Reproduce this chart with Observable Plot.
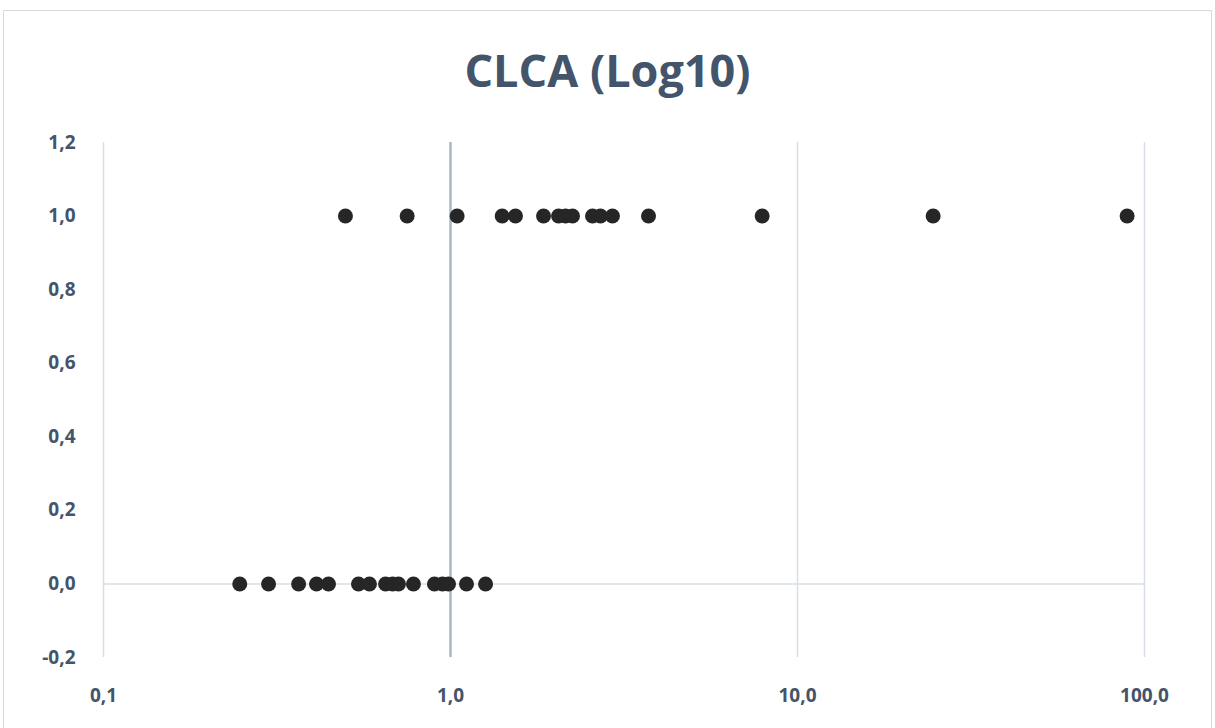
<!DOCTYPE html>
<html>
<head>
<meta charset="utf-8">
<script src="https://cdn.jsdelivr.net/npm/d3@7"></script>
<script src="https://cdn.jsdelivr.net/npm/@observablehq/plot@0.6"></script>
<style>
  html, body { margin: 0; padding: 0; background: #ffffff; width: 1215px; height: 728px; overflow: hidden; }
  #frame { position: absolute; left: 3px; top: 10px; width: 1207px; height: 740px; border: 1.5px solid #d9d9d9; pointer-events: none; }
  #title { position: absolute; left: 0; top: 0; width: 1215px; height: 121px; text-align: center;
           font-family: "Open Sans", sans-serif; font-weight: 700; font-size: 45px; color: #44546a;
           line-height: 1; box-sizing: border-box; padding-top: 47px; }
  #chart { position: absolute; left: 0; top: 121px; }
  #chart svg text { font-size: 19px !important; font-weight: 700 !important; font-family: "Open Sans", sans-serif !important; }
</style>
</head>
<body>
<div id="title">CLCA (Log10)</div>
<div id="chart"></div>
<div id="frame"></div>
<script>
// Values (x on a log10 scale)
const outcomeOneX = [0.498, 0.750, 1.045, 1.409, 1.539, 1.854, 2.048, 2.145, 2.247, 2.566, 2.705, 2.929, 3.721, 7.91, 24.6, 89.1];
const outcomeZeroX = [0.247, 0.299, 0.365, 0.411, 0.445, 0.543, 0.584, 0.650, 0.681, 0.708, 0.782, 0.899, 0.948, 0.987, 1.112, 1.262];
const xTickValues = [0.1, 1, 10, 100];
const yTickValues = [-0.2, 0, 0.2, 0.4, 0.6, 0.8, 1.0, 1.2];
const xGridValues = [0.1, 10, 100];
const xAxisCross = [1];
const yAxisCross = [0];

const points = [
  ...outcomeOneX.map(v => ({x: v, y: 1})),
  ...outcomeZeroX.map(v => ({x: v, y: 0}))
];

const fmt = d => d.toFixed(1).replace(".", ",");

const chart = Plot.plot({
  width: 1215,
  height: 607,
  marginLeft: 103,
  marginRight: 71,
  marginTop: 21,
  marginBottom: 71,
  style: { fontFamily: "'Open Sans', sans-serif", fontWeight: 700, color: "#44546a", background: "transparent" },
  x: { type: "log", domain: [0.1, 100], ticks: xTickValues, tickFormat: fmt },
  y: { domain: [-0.2, 1.2], ticks: yTickValues, tickFormat: fmt },
  marks: [
    Plot.ruleX(xGridValues, { stroke: "#d9dfe8", strokeWidth: 1.5 }),
    Plot.ruleY(yAxisCross, { stroke: "#d9dfe8", strokeWidth: 1.5 }),
    Plot.ruleX(xAxisCross, { stroke: "#a8b6c8", strokeWidth: 2.5 }),
    Plot.dot(points, { x: "x", y: "y", r: 7.5, fill: "#262626", stroke: "none" }),
    Plot.axisX({ ticks: xTickValues, tickFormat: fmt, tickSize: 0, tickPadding: 31, fill: "#44546a", label: null }),
    Plot.axisY({ ticks: yTickValues, tickFormat: fmt, tickSize: 0, tickPadding: 28, fill: "#44546a", label: null })
  ]
});
document.getElementById("chart").appendChild(chart);
</script>
</body>
</html>
